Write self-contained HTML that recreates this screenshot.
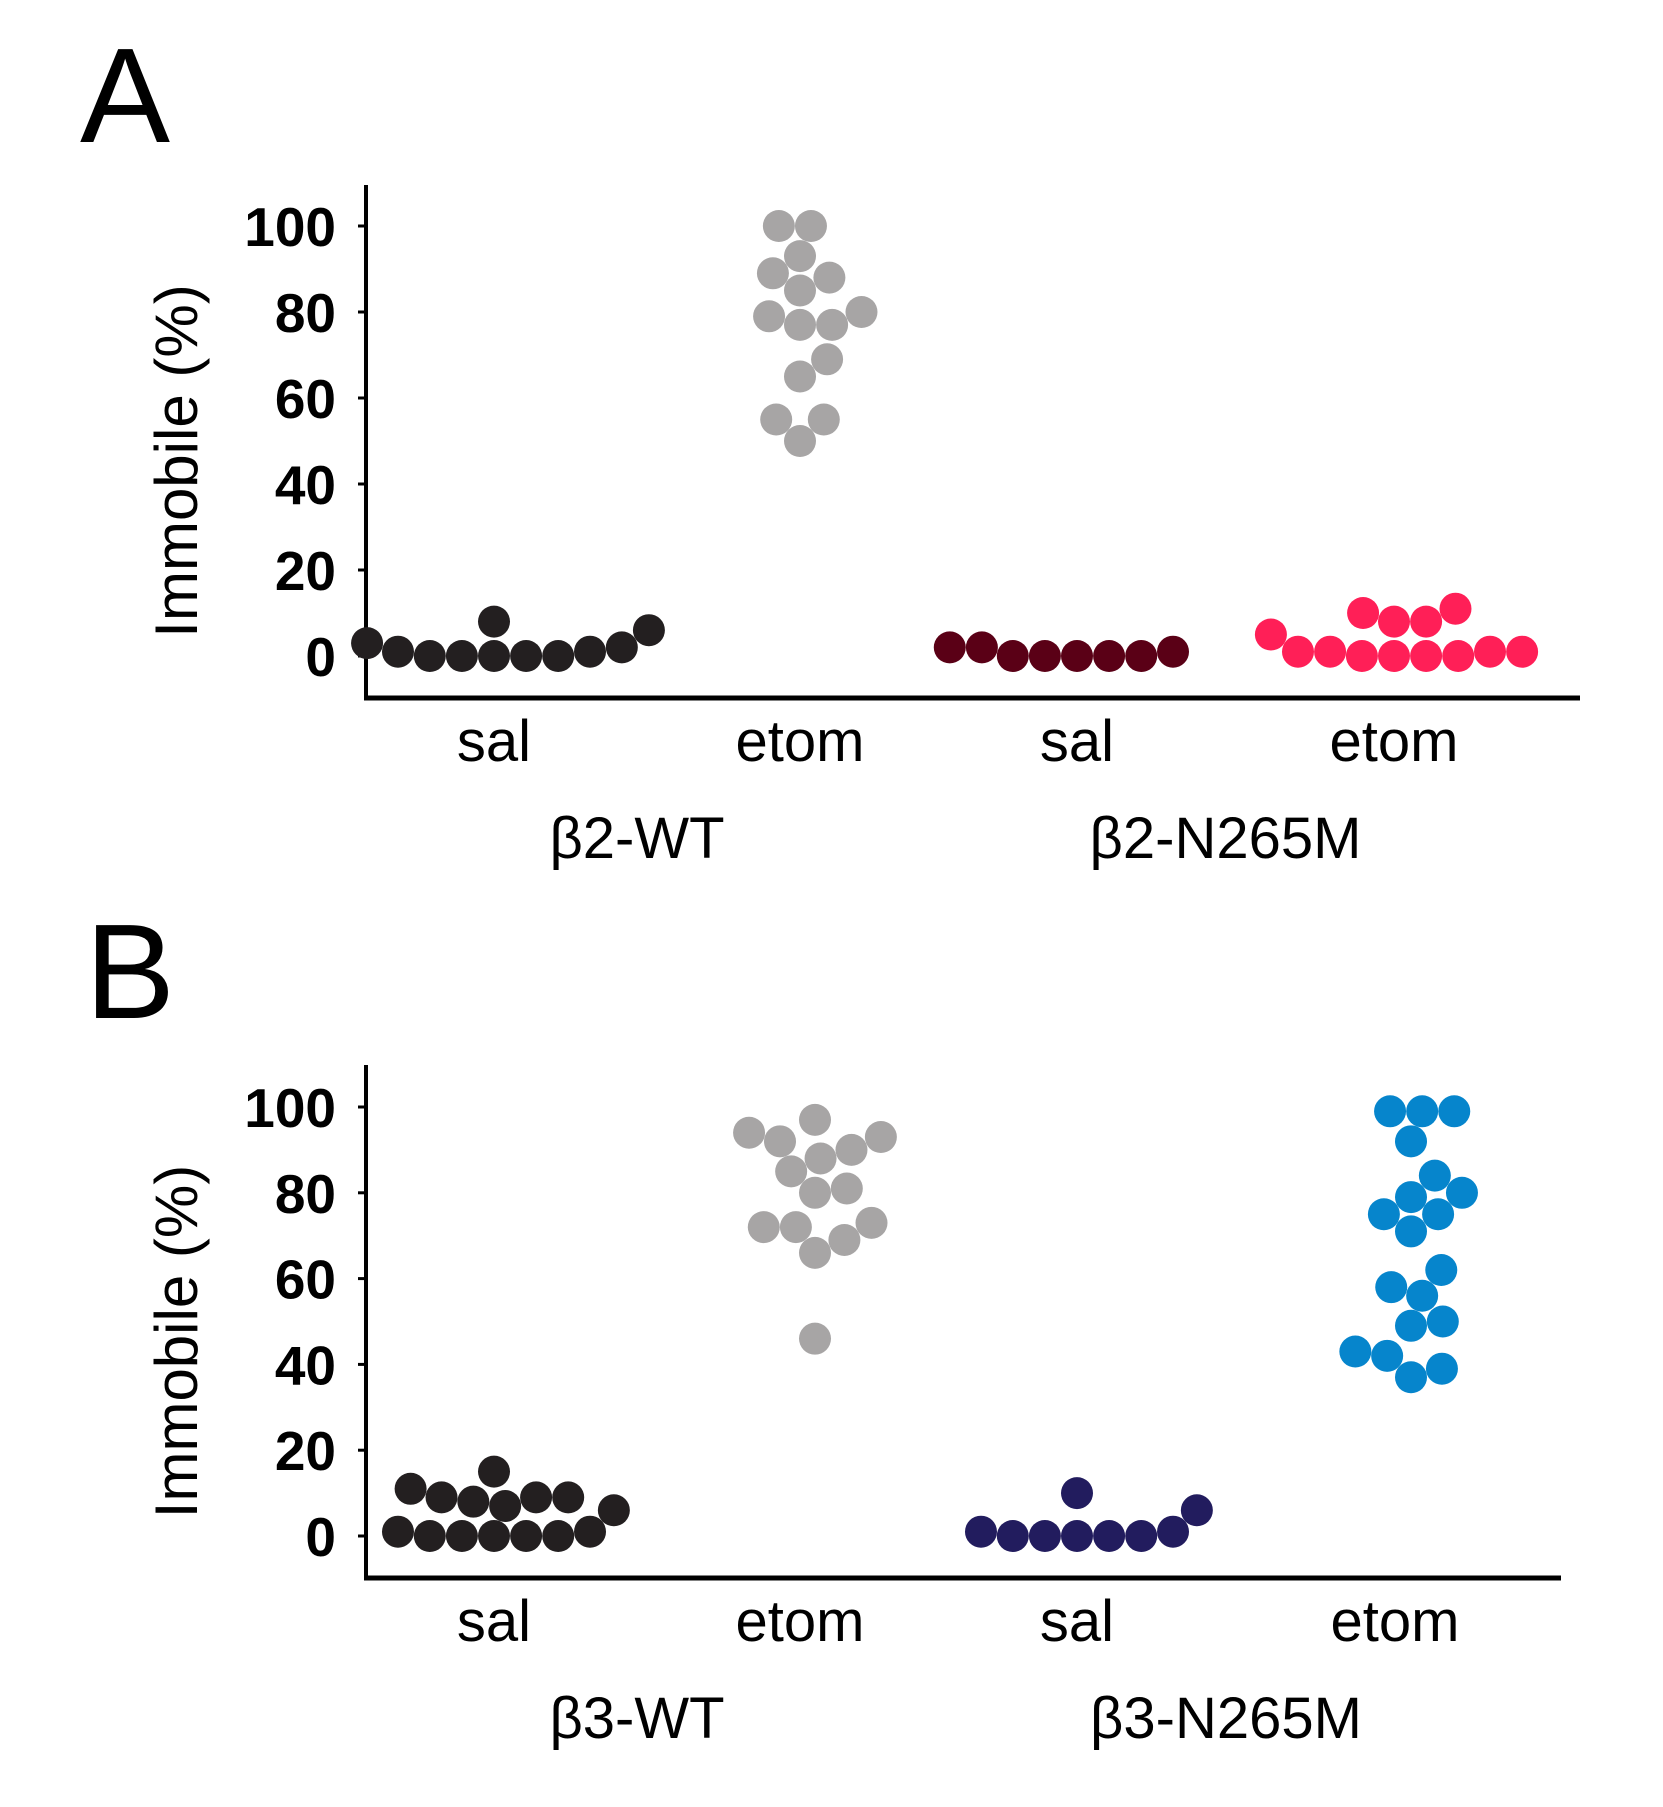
<!DOCTYPE html>
<html><head><meta charset="utf-8"><style>
html,body{margin:0;padding:0;background:#fff;}
svg{display:block;}
text{font-family:"Liberation Sans",Arial,sans-serif;}
</style></head><body>
<svg id="fig" width="1663" height="1807" viewBox="0 0 1663 1807">
<text x="80" y="142" font-size="135">A</text>
<text x="85" y="1018" font-size="135">B</text>
</svg>
<script>
// ---- data ----
const yTicks = [0, 20, 40, 60, 80, 100];
const categories = ["sal", "etom", "sal", "etom"];
const groupsA = ["β2-WT", "β2-N265M"];
const groupsB = ["β3-WT", "β3-N265M"];
const a_sal_wt = [1, 2, 0, 6, 0, 8, 0, 0, 0, 1, 3];
const a_etom_wt = [100, 100, 93, 89, 88, 85, 80, 79, 77, 77, 69, 65, 55, 55, 50];
const a_sal_mut = [2, 0, 0, 0, 0, 0, 1, 2];
const a_etom_mut = [5, 1, 1, 10, 0, 8, 0, 8, 0, 11, 0, 1, 1];
const b_sal_wt = [6, 1, 15, 9, 9, 8, 9, 11, 7, 1, 0, 0, 0, 0, 0];
const b_etom_wt = [97, 93, 92, 94, 88, 90, 85, 80, 81, 72, 72, 73, 69, 66, 46];
const b_sal_mut = [1, 0, 0, 0, 0, 0, 10, 6, 1];
const b_etom_mut = [99, 99, 99, 92, 84, 80, 79, 75, 75, 71, 62, 58, 56, 50, 49, 43, 42, 39, 37];

const NS = "http://www.w3.org/2000/svg";
const svg = document.getElementById("fig");
function mk(tag, attrs, parent) {
  const e = document.createElementNS(NS, tag);
  for (const k in attrs) e.setAttribute(k, attrs[k]);
  (parent || svg).appendChild(e);
  return e;
}
const R = 16;
function swarm(vals, yScale) {
  const pts = vals.map(v => ({ y: yScale(v), v })).sort((a, b) => b.y - a.y);
  const placed = [];
  pts.forEach(p => {
    const cands = [0];
    placed.forEach(q => {
      const dy = Math.abs(q.y - p.y);
      if (dy < 2 * R) { const dx = Math.sqrt(4 * R * R - dy * dy); cands.push(q.x + dx + 0.1, q.x - dx - 0.1); }
    });
    cands.sort((a, b) => Math.abs(a) - Math.abs(b));
    for (const c of cands) {
      if (placed.every(q => (q.x - c) ** 2 + (q.y - p.y) ** 2 >= 4 * R * R - 0.5)) { p.x = c; break; }
    }
    placed.push(p);
  });
  return placed;
}
function panel(cfg) {
  const g = mk("g", {});
  
  
  const yScale = v => cfg.y0 + (cfg.y100 - cfg.y0) * v / 100;
  const ax = mk("line", { x1: cfg.ax, y1: cfg.top, x2: cfg.ax, y2: cfg.bottom + 2, stroke: "#000", "stroke-width": 4 }, g);
  
  
  const bx = mk("line", { x1: cfg.ax - 2, y1: cfg.bottom, x2: cfg.right, y2: cfg.bottom, stroke: "#000", "stroke-width": 5 }, g);
  
  
  yTicks.forEach(t => {
    const y = yScale(t);
    const tk = mk("line", { x1: cfg.ax - 8, y1: y, x2: cfg.ax, y2: y, stroke: "#000", "stroke-width": 3 }, g);
    
    
    const tl = mk("text", { x: cfg.ax - 30, y: y + 20, "text-anchor": "end", "font-size": 55, "font-weight": "bold" }, g);
    tl.textContent = t;
    
    
  });
  const yt = mk("text", { x: 0, y: 0, "text-anchor": "middle", "font-size": 60, transform: `translate(197,${(cfg.y0 + cfg.y100) / 2 + 20}) rotate(-90)` }, g);
  yt.textContent = "Immobile (%)";
  
  
  categories.forEach((c, i) => {
    const t = mk("text", { x: cfg.lx[i], y: cfg.bottom + 63, "text-anchor": "middle", "font-size": 58 }, g);
    t.textContent = c;
    
    
  });
  cfg.groups.forEach((gn, i) => {
    const cx = (cfg.lx[2 * i] + cfg.lx[2 * i + 1]) / 2 - 10;
    const t = mk("text", { x: cx, y: cfg.bottom + 160, "text-anchor": "middle", "font-size": 58 }, g);
    t.textContent = gn;
    
    
  });
  cfg.series.forEach((s, i) => {
    swarm(s, yScale).forEach(p => {
      const c = mk("circle", { cx: cfg.cx[i] + p.x, cy: p.y, r: R, fill: cfg.colors[i] }, g);
      
      
    });
  });
}
panel({ name: "panel-a", ax: 366, top: 185, bottom: 698, right: 1580, y0: 656, y100: 226,
  cx: [494, 800, 1077, 1394], lx: [494, 800, 1077, 1394], groups: groupsA,
  series: [a_sal_wt, a_etom_wt, a_sal_mut, a_etom_mut],
  colors: ["#231f20", "#a7a5a5", "#5a0016", "#ff1f57"] });
panel({ name: "panel-b", ax: 366, top: 1065, bottom: 1578, right: 1561, y0: 1536, y100: 1107,
  cx: [494, 815, 1077, 1411], lx: [494, 800, 1077, 1395], groups: groupsB,
  series: [b_sal_wt, b_etom_wt, b_sal_mut, b_etom_mut],
  colors: ["#231f20", "#a7a5a5", "#221c5e", "#0685cc"] });
</script>
</body></html>
